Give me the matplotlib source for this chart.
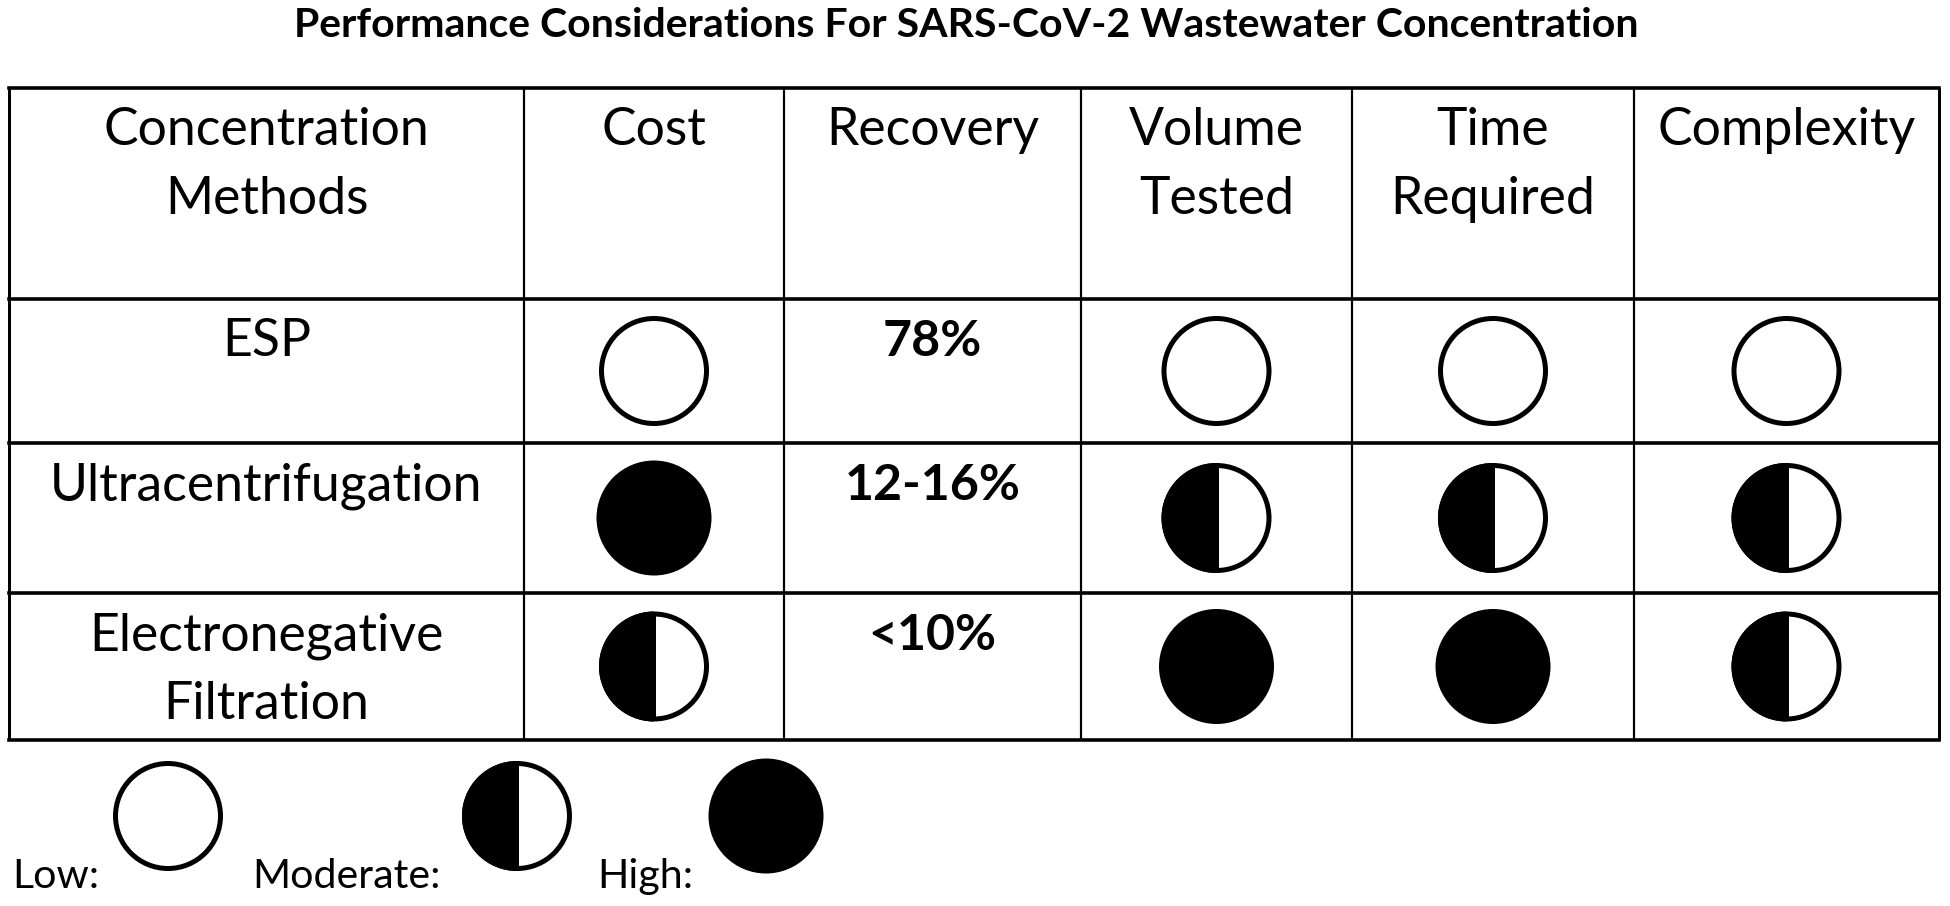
import matplotlib
matplotlib.use('Agg')
import matplotlib.pyplot as plt
from matplotlib.patches import Circle, Wedge

# ---------------- data ----------------
title = "Performance Considerations For SARS-CoV-2 Wastewater Concentration"
headers = ["Concentration\nMethods", "Cost", "Recovery", "Volume\nTested", "Time\nRequired", "Complexity"]
methods = ["ESP", "Ultracentrifugation", "Electronegative\nFiltration"]
recovery = ["78%", "12-16%", "<10%"]
# rating levels: 0 = Low, 1 = Moderate, 2 = High
cost = [0, 2, 1]
volume_tested = [0, 1, 2]
time_required = [0, 1, 2]
complexity = [0, 1, 1]
legend_labels = ["Low:", "Moderate:", "High:"]
legend_levels = [0, 1, 2]

# ---------------- layout (pixels) ----------------
W, H = 1950, 906
col_edges = [9, 524, 784, 1081, 1352, 1634, 1939]
row_edges = [88, 299, 443, 593, 740]
baseline_off = 57
line_gap = 69
legend_text_x = [12, 252, 597]
legend_circle_x = [168, 517, 766]
legend_circle_y = 816
legend_baseline = 888

PX = 72 / 100.0  # points per pixel
R_OUT = 52.5
LW_RING = 5.0
R_FILL = 57.5

FONT = 'Lato'

fig = plt.figure(figsize=(W / 100, H / 100), dpi=100)
ax = fig.add_axes([0, 0, 1, 1])
ax.set_xlim(0, W)
ax.set_ylim(H, 0)
ax.axis('off')
renderer = fig.canvas.get_renderer()


def fit_size(text, target_px, weight='normal'):
    t = ax.text(0, 0, text, fontsize=20, fontweight=weight, family=FONT)
    w = t.get_window_extent(renderer).width
    t.remove()
    return 20 * target_px / w


fs_body = fit_size("Concentration", 327)
fs_bold = fit_size("12-16%", 176, 'bold')
fs_title = fit_size(title, 1343, 'bold')
fs_leg = fit_size("Moderate:", 189)

# title
ax.text(966, 37, title, ha='center', va='baseline', fontsize=fs_title,
        fontweight='bold', family=FONT)

# grid lines
for i, y in enumerate(row_edges):
    ax.plot([col_edges[0], col_edges[-1]], [y, y], color='black',
            lw=3.6 * PX, solid_capstyle='projecting')
for i, x in enumerate(col_edges):
    lw = 3.0 if i in (0, len(col_edges) - 1) else 2.2
    ax.plot([x, x], [row_edges[0], row_edges[-1]], color='black',
            lw=lw * PX, solid_capstyle='butt')

col_c = [(col_edges[i] + col_edges[i + 1]) / 2 for i in range(len(col_edges) - 1)]
row_c = [(row_edges[i] + row_edges[i + 1]) / 2 for i in range(len(row_edges) - 1)]


def cell_text(ci, ri, text, fs, weight='normal'):
    top = row_edges[ri]
    for k, line in enumerate(text.split('\n')):
        ax.text(col_c[ci], top + baseline_off + k * line_gap, line, ha='center',
                va='baseline', fontsize=fs, fontweight=weight, family=FONT)


def draw_rating(cx, cy, level):
    if level == 2:
        ax.add_patch(Circle((cx, cy), R_FILL, facecolor='black', edgecolor='none'))
    elif level == 1:
        ax.add_patch(Wedge((cx, cy), R_OUT + LW_RING / 2, 90, 270,
                           facecolor='black', edgecolor='none'))
        ax.add_patch(Circle((cx, cy), R_OUT, facecolor='none', edgecolor='black',
                            lw=LW_RING * PX))
        ax.plot([cx, cx], [cy - R_OUT, cy + R_OUT], color='black', lw=3.0 * PX)
    else:
        ax.add_patch(Circle((cx, cy), R_OUT, facecolor='none', edgecolor='black',
                            lw=LW_RING * PX))


# header
for ci, h in enumerate(headers):
    cell_text(ci, 0, h, fs_body)

# body rows
rating_cols = {1: cost, 3: volume_tested, 4: time_required, 5: complexity}
for r in range(len(methods)):
    cell_text(0, r + 1, methods[r], fs_body)
    cell_text(2, r + 1, recovery[r], fs_bold, 'bold')
    for ci, vals in rating_cols.items():
        draw_rating(col_c[ci], row_c[r + 1], vals[r])

# legend
for lab, lvl, tx, cx in zip(legend_labels, legend_levels, legend_text_x, legend_circle_x):
    ax.text(tx, legend_baseline, lab, ha='left', va='baseline', fontsize=fs_leg, family=FONT)
    draw_rating(cx, legend_circle_y, lvl)

fig.savefig('out.png', dpi=100, facecolor='white')
